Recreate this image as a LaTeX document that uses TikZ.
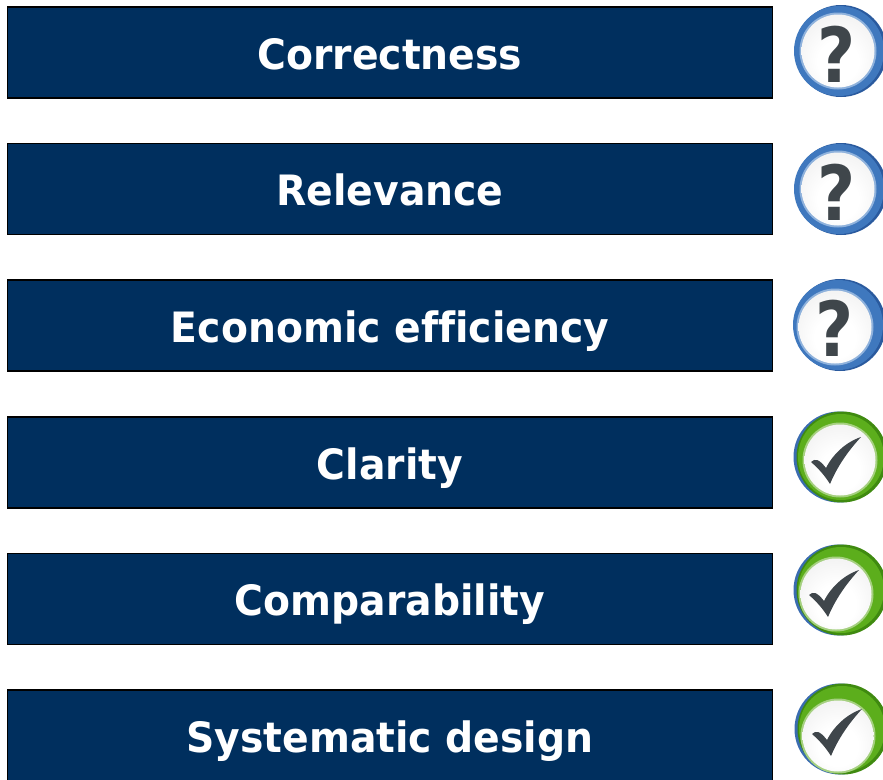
\documentclass[tikz,border=0pt]{standalone}
\usepackage{fontspec}
\setmainfont{DejaVu Sans}[Ligatures=NoCommon,FakeStretch=0.94]
\definecolor{navy}{HTML}{002F5E}
\definecolor{qdark}{HTML}{3F464B}
\definecolor{bluedk}{HTML}{2A5A9E}
\definecolor{bluea}{HTML}{3F78BE}
\definecolor{blueb}{HTML}{8FB2DC}
\definecolor{blueedge}{HTML}{3A6CB0}
\definecolor{greendk}{HTML}{3F8A10}
\definecolor{greena}{HTML}{5CAE1C}
\definecolor{greenb}{HTML}{A5D080}
\pgfdeclareradialshading{facesh}{\pgfpoint{0bp}{-10bp}}{color(0bp)=(white);color(14bp)=(white);color(34bp)=(black!6);color(50bp)=(black!9)}
\tikzset{
  x=1pt,y=-1pt,
  barbox/.style={draw=black,line width=1.5pt,fill=navy,text=white,minimum width=765pt,minimum height=91pt,
    inner sep=0pt,font=\fontsize{41.8pt}{44pt}\selectfont\bfseries,text height=34pt,text depth=1pt},
  qglyph/.style={text=qdark,inner sep=0pt,font=\fontsize{76pt}{76pt}\selectfont\bfseries,xscale=.92},
}
% name, outer cx, cy, face cx, cy, glyph cx, cy
\newcommand{\qicon}[7]{%
  \fill[bluedk] (#2+1,#3) circle[radius=46];
  \fill[bluea] (#2-1,#3) circle[radius=45];
  \fill[blueb] (#4,#5) circle[radius=38.5];
  \shade[shading=facesh] (#4,#5) circle[radius=36.5];
  \node[qglyph] (#1) at (#6,#7) {?};
}
% name, outer cx, cy, face cx, cy, check dx, dy
\newcommand{\cicon}[7]{%
  \fill[blueedge] (#2-1,#3) circle[radius=45.5];
  \fill[greendk] (#2+2,#3) circle[radius=45.5];
  \fill[greena] (#2+1,#3) circle[radius=43];
  \fill[greenb] (#4,#5) circle[radius=37.5];
  \shade[shading=facesh] (#4,#5) circle[radius=35.5];
  \coordinate (#1) at (#2,#3);
  \fill[qdark,shift={(#2+#6,#3+#7)}] (-29,5) .. controls (-25,1) and (-21,2) .. (-14,11)
     .. controls (-7,-3) and (6,-15) .. (21,-20)
     .. controls (8,-6) and (-3,10) .. (-10,27)
     .. controls (-15,19) and (-21,12) .. cycle;
}
\begin{document}
\begin{tikzpicture}
\useasboundingbox (0,0) rectangle (883,779);
\clip (0,0) rectangle (883,779);
\fill[white] (0,0) rectangle (883,779);
\node[barbox] (b1) at (390,52.5) {Correctness};
\node[barbox] (b2) at (390,189) {Relevance};
\node[barbox] (b3) at (390,325.5) {Economic efficiency};
\node[barbox] (b4) at (390,462.5) {Clarity};
\node[barbox] (b5) at (390,599) {Comparability};
\node[barbox] (b6) at (390,735.5) {Systematic design};
\qicon{i1}{840}{51}{838}{51}{837}{54}
\qicon{i2}{840}{189}{838}{189}{837}{192}
\qicon{i3}{839}{325}{835}{327}{835}{328}
\cicon{i4}{840}{457}{840}{460}{0}{0}
\cicon{i5}{840}{590}{836}{594}{-2}{0}
\cicon{i6}{841}{729}{838}{736}{0}{0}
\end{tikzpicture}
\end{document}
